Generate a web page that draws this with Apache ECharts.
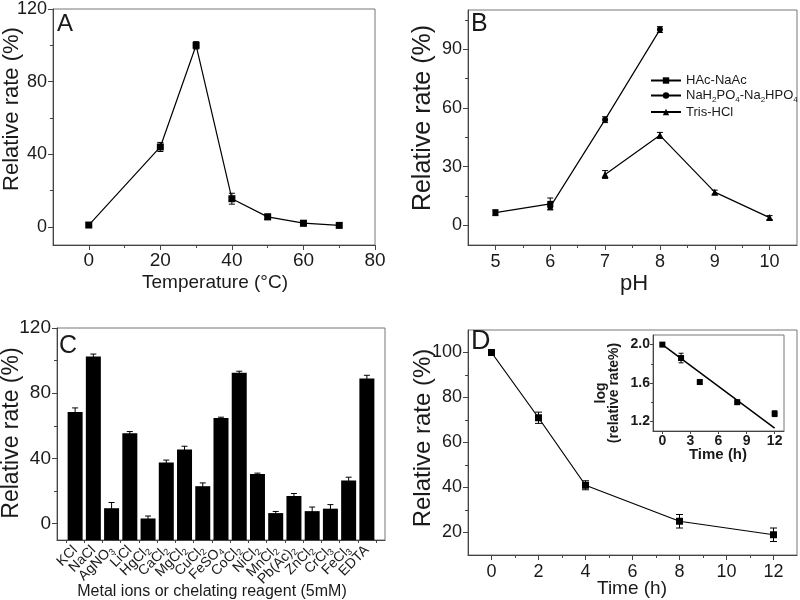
<!DOCTYPE html>
<html><head><meta charset="utf-8">
<script src="https://cdn.jsdelivr.net/npm/echarts@6/dist/echarts.min.js"></script>
<style>html,body{margin:0;padding:0;background:#fff}#c{width:800px;height:600px}</style>
</head><body><div id="c"></div>
<script>
// ---------- Panel A : temperature ----------
const tempX = [0, 20, 30, 40, 50, 60, 70];
const tempRate = [1, 44, 100, 15.5, 5.5, 2, 0.8];
const tempErr = [1, 2.5, 2, 3, 1.5, 1.5, 1];
const ticksAx = [0, 20, 40, 60, 80];
const minorAx = [10, 30, 50, 70];
const ticksAy = [0, 40, 80, 120];
const minorAy = [20, 60, 100];

// ---------- Panel B : pH ----------
const phHAc = [5, 6];
const rateHAc = [6.5, 11];
const errHAc = [1.5, 3];
const phPhos = [6, 7, 8];
const ratePhos = [9.5, 54, 100];
const errPhos = [1.5, 1.5, 1.5];
const phTris = [7, 8, 9, 10];
const rateTris = [26, 46, 17, 4];
const errTris = [2, 1.5, 1, 1];
const legendB = ['HAc-NaAc', 'NaH2PO4-Na2HPO4', 'Tris-HCl'];
const ticksBx = [5, 6, 7, 8, 9, 10];
const minorBx = [5.5, 6.5, 7.5, 8.5, 9.5];
const ticksBy = [0, 30, 60, 90];
const minorBy = [15, 45, 75, 105];

// ---------- Panel C : metal ions ----------
const metalBase = ['KCl', 'NaCl', 'AgNO', 'LiCl', 'HgCl', 'CaCl', 'MgCl', 'CuCl', 'FeSO', 'CoCl', 'NiCl', 'MnCl', 'Pb(Ac)', 'ZnCl', 'CrCl', 'FeCl', 'EDTA'];
const metalSub  = ['', '', '3', '', '2', '2', '2', '2', '4', '2', '2', '2', '2', '2', '3', '3', ''];
const metalRate = [68.5, 102.5, 9.5, 55.5, 3.2, 37.5, 45.5, 23, 64.8, 92.5, 30.5, 6.5, 17, 7.7, 9.2, 26.5, 89];
const metalErr  = [2.5, 1.5, 3.5, 1, 1.5, 1.5, 2, 2, 0.5, 1, 0.5, 1, 1.5, 2.5, 2.5, 2, 2];
const ticksCy = [0, 40, 80, 120];
const minorCy = [20, 60, 100];

// ---------- Panel D : stability ----------
const timeH = [0, 2, 4, 8, 12];
const timeRate = [100, 71, 41, 25, 19];
const timeErr = [1, 2.5, 2, 3, 3];
const ticksDx = [0, 2, 4, 6, 8, 10, 12];
const minorDx = [1, 3, 5, 7, 9, 11];
const ticksDy = [20, 40, 60, 80, 100];
const minorDy = [30, 50, 70, 90];
// inset
const logRate = [2.0, 1.86, 1.61, 1.40, 1.28];
const logErr = [0.01, 0.05, 0.02, 0.02, 0.03];
const fitX = [0, 12];
const fitY = [2.0, 1.13];
const ticksIx = [0, 3, 6, 9, 12];
const ticksIy = [1.2, 1.6, 2.0];
const minorIy = [1.4, 1.8];

const FONT = 'Arial, "Liberation Sans", Helvetica, sans-serif';
const INK = '#1a1a1a';
const AX = '#444';

const xAxes = [], yAxes = [];
function addAxis(list, grid, pos, min, max, major, minor, fontSize, opts) {
  opts = opts || {};
  const idx = list.length;
  list.push({
    gridIndex: grid, type: 'value', position: pos, min: min, max: max,
    splitLine: { show: false },
    axisLine: { show: true, onZero: false, lineStyle: { color: AX, width: 1 } },
    axisTick: { show: !!major, customValues: major || [], length: opts.tickLen || 5, lineStyle: { color: AX } },
    axisLabel: Object.assign({ show: !!major, customValues: major || [], color: INK, fontSize: fontSize, fontFamily: FONT,
      margin: opts.margin || 6 }, opts.label || {})
  });
  if (minor) {
    list.push({
      gridIndex: grid, type: 'value', position: pos, min: min, max: max,
      splitLine: { show: false }, axisLine: { show: false, onZero: false },
      axisLabel: { show: false },
      axisTick: { show: true, customValues: minor, length: opts.minorLen || 3, lineStyle: { color: AX } }
    });
  }
  return idx;
}

const grids = [
  { left: 53, top: 8, width: 322, height: 237 },
  { left: 468, top: 10, width: 329, height: 235 },
  { left: 57, top: 328, width: 328, height: 212 },
  { left: 468, top: 330, width: 329, height: 225 },
  { left: 653, top: 335, width: 131, height: 96, backgroundColor: '#fff' },
  { left: 66, top: 328, width: 310, height: 212, show: false }
].map(g => Object.assign({ show: true, borderColor: '#777', borderWidth: 1, containLabel: false, backgroundColor: 'transparent' }, g));

const xA = addAxis(xAxes, 0, 'bottom', -10, 80, ticksAx, minorAx, 19);
const yA = addAxis(yAxes, 0, 'left', -10, 120, ticksAy, minorAy, 18);
const xB = addAxis(xAxes, 1, 'bottom', 4.5, 10.5, ticksBx, minorBx, 18, { margin: 8 });
const yB = addAxis(yAxes, 1, 'left', -10, 110, ticksBy, minorBy, 18);
// panel C: frame axes on grid 2, category data axes on grid 5
addAxis(xAxes, 2, 'bottom', -1, 17, null, null, 14);
const yC = addAxis(yAxes, 2, 'left', -10, 120, ticksCy, minorCy, 19);
const xCcat = xAxes.length;
xAxes.push({
  gridIndex: 5, type: 'category', data: metalBase, boundaryGap: true, position: 'bottom',
  axisLine: { show: false, onZero: false }, splitLine: { show: false },
  axisTick: { show: true, length: 3, lineStyle: { color: AX } },
  axisLabel: {
    interval: 0, rotate: 45, margin: 8, hideOverlap: false,
    formatter: function (v, i) {
      return '{n|' + metalBase[i] + '}' + (metalSub[i] ? '{s|' + metalSub[i] + '}' : '');
    },
    rich: {
      n: { fontSize: 14, lineHeight: 16, fontFamily: FONT, color: INK },
      s: { fontSize: 9, lineHeight: 9, verticalAlign: 'bottom', fontFamily: FONT, color: INK }
    }
  }
});
const yCdata = yAxes.length;
yAxes.push({ gridIndex: 5, type: 'value', min: -10, max: 120, show: false, axisLine: { onZero: false } });

const xD = addAxis(xAxes, 3, 'bottom', -1, 13, ticksDx, minorDx, 18, { margin: 8 });
const yD = addAxis(yAxes, 3, 'left', 10, 110, ticksDy, minorDy, 18);
const xI = addAxis(xAxes, 4, 'bottom', -1, 13, ticksIx, null, 14, { tickLen: 3, margin: 3, label: { fontWeight: 'bold' } });
const yI = addAxis(yAxes, 4, 'left', 1.1, 2.1, ticksIy, minorIy, 14, { tickLen: 3, minorLen: 2, margin: 3, label: { fontWeight: 'bold', formatter: v => v.toFixed(1) } });

function zip(xs, ys) { return xs.map((x, i) => [x, ys[i]]); }

function lineSeries(name, xs, ys, xi, yi, symbol, size) {
  return {
    name: name, type: 'line', xAxisIndex: xi, yAxisIndex: yi, data: zip(xs, ys),
    symbol: symbol, symbolSize: size, showSymbol: true,
    lineStyle: { color: '#000', width: 1.2 }, itemStyle: { color: '#000' },
    z: 4, animation: false
  };
}

function errSeries(xs, ys, es, xi, yi, capW) {
  return {
    type: 'custom', xAxisIndex: xi, yAxisIndex: yi, silent: true, z: 5, animation: false,
    data: xs.map((x, i) => [x, ys[i] - es[i], ys[i] + es[i]]),
    encode: { x: 0, y: [1, 2] },
    renderItem: function (params, api) {
      const lo = api.coord([api.value(0), api.value(1)]);
      const hi = api.coord([api.value(0), api.value(2)]);
      const w = capW / 2;
      const st = { stroke: '#000', lineWidth: 1 };
      return {
        type: 'group', children: [
          { type: 'line', shape: { x1: lo[0], y1: lo[1], x2: hi[0], y2: hi[1] }, style: st },
          { type: 'line', shape: { x1: lo[0] - w, y1: lo[1], x2: lo[0] + w, y2: lo[1] }, style: st },
          { type: 'line', shape: { x1: hi[0] - w, y1: hi[1], x2: hi[0] + w, y2: hi[1] }, style: st }
        ]
      };
    }
  };
}

const C_BASE = -10;
const catIdx = metalBase.map((_, i) => i);
const barSeries = {
  type: 'custom', xAxisIndex: xCcat, yAxisIndex: yCdata, z: 3, animation: false,
  data: metalRate.map((v, i) => [i, v]),
  encode: { x: 0, y: 1 },
  renderItem: function (params, api) {
    const top = api.coord([api.value(0), api.value(1)]);
    const bot = api.coord([api.value(0), C_BASE]);
    const bw = 15;
    return { type: 'rect', shape: { x: top[0] - bw / 2, y: top[1], width: bw, height: bot[1] - top[1] }, style: { fill: '#000' } };
  }
};

const series = [
  lineSeries('A', tempX, tempRate, xA, yA, 'rect', 7),
  errSeries(tempX, tempRate, tempErr, xA, yA, 6),

  lineSeries(legendB[0], phHAc, rateHAc, xB, yB, 'rect', 6),
  errSeries(phHAc, rateHAc, errHAc, xB, yB, 6),
  lineSeries(legendB[1], phPhos, ratePhos, xB, yB, 'circle', 6),
  errSeries(phPhos, ratePhos, errPhos, xB, yB, 6),
  lineSeries(legendB[2], phTris, rateTris, xB, yB, 'triangle', 7),
  errSeries(phTris, rateTris, errTris, xB, yB, 6),

  barSeries,
  errSeries(catIdx, metalRate, metalErr, xCcat, yCdata, 6),

  lineSeries('D', timeH, timeRate, xD, yD, 'rect', 7),
  errSeries(timeH, timeRate, timeErr, xD, yD, 7),

  Object.assign(lineSeries('inset', timeH, logRate, xI, yI, 'rect', 6), { lineStyle: { width: 0, opacity: 0 } }),
  errSeries(timeH, logRate, logErr, xI, yI, 5),
  Object.assign(lineSeries('fit', fitX, fitY, xI, yI, 'none', 0), { lineStyle: { color: '#000', width: 1.5 } })
];

function vtext(x, y, text, size, extra) {
  return {
    type: 'text', x: x, y: y, rotation: Math.PI / 2, silent: true,
    style: Object.assign({ text: text, fontSize: size, fontFamily: FONT, fill: INK, align: 'center', verticalAlign: 'middle' }, extra || {})
  };
}
function htext(x, y, text, size, extra) {
  return {
    type: 'text', x: x, y: y, silent: true,
    style: Object.assign({ text: text, fontSize: size, fontFamily: FONT, fill: INK, align: 'center', verticalAlign: 'middle' }, extra || {})
  };
}

const graphic = [
  vtext(12, 109, 'Relative rate (%)', 22),
  vtext(423, 118, 'Relative rate (%)', 25),
  vtext(12, 433, 'Relative rate (%)', 23),
  vtext(423, 438, 'Relative rate (%)', 24),
  vtext(608, 393, 'log\n(relative rate%)', 14, { fontWeight: 'bold', lineHeight: 13 }),
  htext(215, 283, 'Temperature (°C)', 19),
  htext(634, 284, 'pH', 22),
  htext(212, 592, 'Metal ions or chelating reagent (5mM)', 16),
  htext(632, 589, 'Time (h)', 19),
  htext(718, 455, 'Time (h)', 15, { fontWeight: 'bold' }),
  htext(57, 24, 'A', 24, { align: 'left' }),
  htext(471, 24, 'B', 25, { align: 'left' }),
  htext(59, 346, 'C', 25, { align: 'left' }),
  htext(471, 342, 'D', 27, { align: 'left' })
];

const chart = echarts.init(document.getElementById('c'), null, { renderer: 'canvas' });
chart.setOption({
  animation: false,
  backgroundColor: '#fff',
  grid: grids,
  xAxis: xAxes,
  yAxis: yAxes,
  legend: {
    data: legendB, orient: 'vertical', left: 645, top: 69,
    itemWidth: 30, itemHeight: 8, itemGap: 2,
    formatter: function (name) {
      if (name === legendB[1]) return '{n|NaH}{s|2}{n|PO}{s|4}{n|-Na}{s|2}{n|HPO}{s|4}';
      return '{n|' + name + '}';
    },
    textStyle: {
      fontSize: 13, fontFamily: FONT, color: INK,
      rich: {
        n: { fontSize: 13, lineHeight: 16, fontFamily: FONT, color: INK },
        s: { fontSize: 8, lineHeight: 8, verticalAlign: 'bottom', fontFamily: FONT, color: INK }
      }
    }
  },
  series: series,
  graphic: graphic
});
</script>
</body></html>
